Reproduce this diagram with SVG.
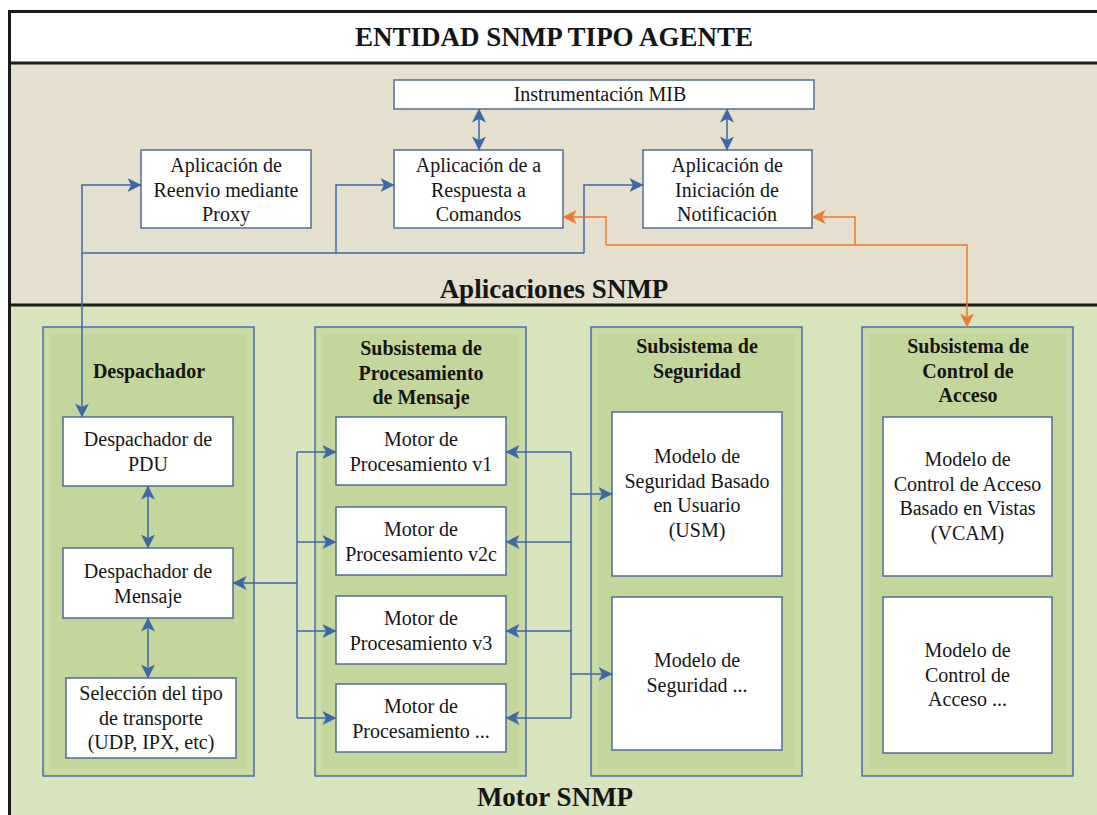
<svg xmlns="http://www.w3.org/2000/svg" width="1097" height="815" viewBox="0 0 1097 815" font-family="Liberation Serif, DejaVu Serif, serif">
  <defs>
    <style>
      .frame{fill:none;stroke:#1b1b1b;stroke-width:3}
      .col{fill:#c3d69b;stroke:#4f6fad;stroke-width:1.5}
      .colin{fill:none;stroke:#cbdca8;stroke-width:5}
      .box{fill:#ffffff;stroke:#536b96;stroke-width:1.5}
      .t{font-size:20px;fill:#151515;text-anchor:middle}
      .h{font-weight:bold}
      .big{font-size:27px}
      .b{fill:none;stroke:#3d69a8;stroke-width:1.5}
      .o{fill:none;stroke:#ec7a30;stroke-width:1.5}
    </style>
    <marker id="ab" viewBox="0 0 14 14" refX="13.5" refY="7" markerWidth="14" markerHeight="14" markerUnits="userSpaceOnUse" orient="auto-start-reverse">
      <path d="M0,0 L14,7 L0,14 L3.5,7 z" fill="#3d69a8"/>
    </marker>
    <marker id="ao" viewBox="0 0 14 14" refX="13.5" refY="7" markerWidth="14" markerHeight="14" markerUnits="userSpaceOnUse" orient="auto-start-reverse">
      <path d="M0,0 L14,7 L0,14 L3.5,7 z" fill="#ec7a30"/>
    </marker>
  </defs>

  <!-- background bands -->
  <rect x="0" y="0" width="1097" height="815" fill="#ffffff"/>
  <rect x="9.5" y="11.5" width="1100" height="51.5" fill="#ffffff"/>
  <rect x="9.5" y="63" width="1100" height="242" fill="#e4e0cd"/>
  <rect x="9.5" y="305" width="1100" height="520" fill="#d8e4bd"/>
  <path class="frame" d="M1100,11.5 H9.5 V820 M9.5,63 H1100 M9.5,305 H1100"/>

  <g id="header">
    <text class="t h big" x="554" y="46">ENTIDAD SNMP TIPO AGENTE</text>
  </g>

  <g id="aplicaciones-snmp">
    <text class="t h big" x="554" y="298">Aplicaciones SNMP</text>
  </g>

  <g id="motor-snmp">
    <text class="t h big" x="555" y="806">Motor SNMP</text>
  </g>

  <!-- applications -->
  <g id="instrumentacion-mib">
    <rect class="box" x="394" y="80" width="420" height="29"/>
    <text class="t" x="600" y="101">Instrumentación MIB</text>
  </g>

  <g id="app-reenvio-proxy">
    <rect class="box" x="141" y="150" width="170" height="78"/>
    <text class="t" x="226" y="172">Aplicación de</text>
    <text class="t" x="226" y="196.5">Reenvio mediante</text>
    <text class="t" x="226" y="221">Proxy</text>
  </g>

  <g id="app-respuesta-comandos">
    <rect class="box" x="394" y="150" width="169" height="78"/>
    <text class="t" x="478.5" y="172">Aplicación de a</text>
    <text class="t" x="478.5" y="196.5">Respuesta a</text>
    <text class="t" x="478.5" y="221">Comandos</text>
  </g>

  <g id="app-iniciacion-notificacion">
    <rect class="box" x="643" y="150" width="169" height="78"/>
    <text class="t" x="727" y="172">Aplicación de</text>
    <text class="t" x="727" y="196.5">Iniciación de</text>
    <text class="t" x="727" y="221">Notificación</text>
  </g>

  <!-- engine subsystems -->
  <g id="despachador">
    <rect class="col" x="43" y="327" width="211" height="449"/>
    <rect class="colin" x="47.5" y="331.5" width="202" height="440"/>
    <text class="t h" x="149" y="378">Despachador</text>
    <g id="despachador-pdu">
      <rect class="box" x="63" y="417" width="170" height="69"/>
      <text class="t" x="148" y="446">Despachador de</text>
      <text class="t" x="148" y="470.5">PDU</text>
    </g>
    <g id="despachador-mensaje">
      <rect class="box" x="63" y="548" width="170" height="70"/>
      <text class="t" x="148" y="578">Despachador de</text>
      <text class="t" x="148" y="602.5">Mensaje</text>
    </g>
    <g id="seleccion-transporte">
      <rect class="box" x="66" y="678" width="170" height="80"/>
      <text class="t" x="151" y="700">Selección del tipo</text>
      <text class="t" x="151" y="724.5">de transporte</text>
      <text class="t" x="151" y="749">(UDP, IPX, etc)</text>
    </g>
  </g>

  <g id="subsistema-procesamiento">
    <rect class="col" x="315" y="327" width="211" height="449"/>
    <rect class="colin" x="319.5" y="331.5" width="202" height="440"/>
    <text class="t h" x="421" y="355">Subsistema de</text>
    <text class="t h" x="421" y="379.5">Procesamiento</text>
    <text class="t h" x="421" y="404">de Mensaje</text>
    <g id="motor-v1">
      <rect class="box" x="336" y="417" width="170" height="68"/>
      <text class="t" x="421" y="446">Motor de</text>
      <text class="t" x="421" y="470.5">Procesamiento v1</text>
    </g>
    <g id="motor-v2c">
      <rect class="box" x="336" y="507" width="170" height="68"/>
      <text class="t" x="421" y="536">Motor de</text>
      <text class="t" x="421" y="560.5">Procesamiento v2c</text>
    </g>
    <g id="motor-v3">
      <rect class="box" x="336" y="596" width="170" height="68"/>
      <text class="t" x="421" y="625">Motor de</text>
      <text class="t" x="421" y="649.5">Procesamiento v3</text>
    </g>
    <g id="motor-otros">
      <rect class="box" x="336" y="684" width="170" height="68"/>
      <text class="t" x="421" y="713">Motor de</text>
      <text class="t" x="421" y="737.5">Procesamiento ...</text>
    </g>
  </g>

  <g id="subsistema-seguridad">
    <rect class="col" x="591" y="327" width="211" height="449"/>
    <rect class="colin" x="595.5" y="331.5" width="202" height="440"/>
    <text class="t h" x="697" y="353">Subsistema de</text>
    <text class="t h" x="697" y="377.5">Seguridad</text>
    <g id="modelo-usm">
      <rect class="box" x="612" y="412" width="170" height="164"/>
      <text class="t" x="697" y="463">Modelo de</text>
      <text class="t" x="697" y="487.5">Seguridad Basado</text>
      <text class="t" x="697" y="512">en Usuario</text>
      <text class="t" x="697" y="536.5">(USM)</text>
    </g>
    <g id="modelo-seguridad-otros">
      <rect class="box" x="612" y="597" width="170" height="153"/>
      <text class="t" x="697" y="667">Modelo de</text>
      <text class="t" x="697" y="691.5">Seguridad ...</text>
    </g>
  </g>

  <g id="subsistema-control-acceso">
    <rect class="col" x="862" y="327" width="211" height="449"/>
    <rect class="colin" x="866.5" y="331.5" width="202" height="440"/>
    <text class="t h" x="968" y="353">Subsistema de</text>
    <text class="t h" x="968" y="377.5">Control de</text>
    <text class="t h" x="968" y="402">Acceso</text>
    <g id="modelo-vcam">
      <rect class="box" x="883" y="417" width="169" height="159"/>
      <text class="t" x="967.5" y="466">Modelo de</text>
      <text class="t" x="967.5" y="490.5">Control de Acceso</text>
      <text class="t" x="967.5" y="515">Basado en Vistas</text>
      <text class="t" x="967.5" y="539.5">(VCAM)</text>
    </g>
    <g id="modelo-control-otros">
      <rect class="box" x="883" y="597" width="169" height="156"/>
      <text class="t" x="967.5" y="657">Modelo de</text>
      <text class="t" x="967.5" y="681.5">Control de</text>
      <text class="t" x="967.5" y="706">Acceso ...</text>
    </g>
  </g>

  <!-- connectors -->
  <g id="connectors">
    <!-- application bus -->
    <path class="b" d="M82,253 H584"/>
    <path class="b" d="M141,185 H82 V417" marker-start="url(#ab)" marker-end="url(#ab)"/>
    <path class="b" d="M336,253 V185 H394" marker-end="url(#ab)"/>
    <path class="b" d="M584,253 V185 H643" marker-end="url(#ab)"/>
    <!-- MIB links -->
    <path class="b" d="M479,109 V150" marker-start="url(#ab)" marker-end="url(#ab)"/>
    <path class="b" d="M727,109 V150" marker-start="url(#ab)" marker-end="url(#ab)"/>
    <!-- dispatcher internals -->
    <path class="b" d="M148,486 V548" marker-start="url(#ab)" marker-end="url(#ab)"/>
    <path class="b" d="M148,618 V678" marker-start="url(#ab)" marker-end="url(#ab)"/>
    <!-- dispatcher to processing engines -->
    <path class="b" d="M297,452 V718"/>
    <path class="b" d="M297,583 H233" marker-end="url(#ab)"/>
    <path class="b" d="M297,452 H336" marker-end="url(#ab)"/>
    <path class="b" d="M297,542 H336" marker-end="url(#ab)"/>
    <path class="b" d="M297,631 H336" marker-end="url(#ab)"/>
    <path class="b" d="M297,718 H336" marker-end="url(#ab)"/>
    <!-- security to processing engines -->
    <path class="b" d="M571,452 V718"/>
    <path class="b" d="M571,452 H506" marker-end="url(#ab)"/>
    <path class="b" d="M571,542 H506" marker-end="url(#ab)"/>
    <path class="b" d="M571,631 H506" marker-end="url(#ab)"/>
    <path class="b" d="M571,718 H506" marker-end="url(#ab)"/>
    <path class="b" d="M571,494 H612" marker-end="url(#ab)"/>
    <path class="b" d="M571,674 H612" marker-end="url(#ab)"/>
    <!-- access control links -->
    <path class="o" d="M606,245 H967 V327" marker-end="url(#ao)"/>
    <path class="o" d="M606,245 V217 H563" marker-end="url(#ao)"/>
    <path class="o" d="M855,245 V217 H812" marker-end="url(#ao)"/>
  </g>
</svg>
